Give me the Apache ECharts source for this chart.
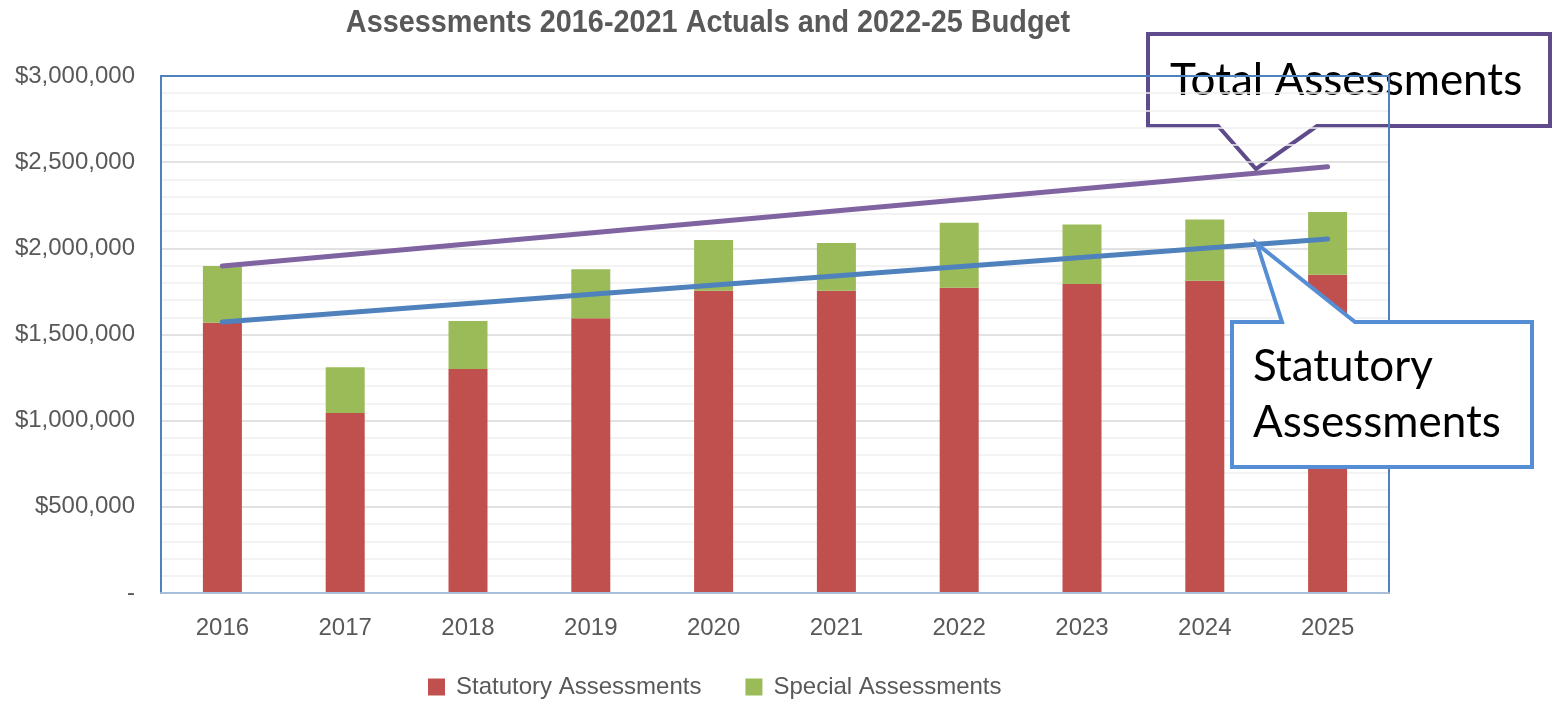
<!DOCTYPE html>
<html>
<head>
<meta charset="utf-8">
<script src="https://cdn.jsdelivr.net/npm/echarts@6/dist/echarts.min.js"></script>
<style>
html,body{margin:0;padding:0;background:#fff;}
#chart{width:1552px;height:701px;}
</style>
</head>
<body>
<div id="chart"></div>
<script>
const categories = ['2016','2017','2018','2019','2020','2021','2022','2023','2024','2025'];
const statutory = [1568000,1045000,1300000,1594000,1754000,1754000,1772000,1793000,1812000,1847000];
const special   = [329000, 265000, 278000, 284000, 294000, 277000, 377000, 346000, 356000, 364000];
const totalTrend     = [1897000, null, null, null, null, null, null, null, null, 2474000];
const statutoryTrend = [1572000, null, null, null, null, null, null, null, null, 2054000];
const yTicks = [0, 500000, 1000000, 1500000, 2000000, 2500000, 3000000];

const chart = echarts.init(document.getElementById('chart'));
const font = 'Liberation Sans';
chart.setOption({
  animation: false,
  backgroundColor: '#fff',
  textStyle: {fontFamily: font},
  grid: {left: 161, right: 163, top: 76, bottom: 108, show: true, borderColor: '#4F81BD', borderWidth: 2, backgroundColor: 'transparent', z: 3},
  legend: {
    data: ['Statutory Assessments', 'Special Assessments'],
    left: 423, top: 670, icon: 'rect', itemWidth: 17, itemHeight: 17, itemGap: 44,
    textStyle: {fontSize: 24, color: '#595959', fontFamily: font, padding: [0,0,0,6]}
  },
  xAxis: {
    type: 'category', data: categories, z: 4,
    axisTick: {show: false},
    axisLine: {lineStyle: {color: '#A9BEDA', width: 2}},
    axisLabel: {fontSize: 24, color: '#595959', margin: 23, fontFamily: font}
  },
  yAxis: {
    type: 'value', min: yTicks[0], max: yTicks[yTicks.length-1], interval: 500000,
    axisLine: {show: false}, axisTick: {show: false},
    axisLabel: {fontSize: 24, color: '#595959', margin: 26, fontFamily: font,
      formatter: v => v === 0 ? '-' : '$' + v.toLocaleString('en-US')},
    splitLine: {lineStyle: {color: '#D9D9D9', width: 1.5}},
    minorTick: {show: false, splitNumber: 5},
    minorSplitLine: {show: true, lineStyle: {color: '#F0F0F0', width: 1.5}}
  },
  series: [
    {name: 'Statutory Assessments', type: 'bar', stack: 'a', data: statutory, barWidth: 39,
     itemStyle: {color: '#C0504D'}},
    {name: 'Special Assessments', type: 'bar', stack: 'a', data: special, barWidth: 39,
     itemStyle: {color: '#9BBB59'}},
    {name: 'Total Trend', type: 'line', data: totalTrend, connectNulls: true, showSymbol: false, symbol: 'none',
     lineStyle: {color: '#8064A2', width: 5, cap: 'round'}, z: 5},
    {name: 'Statutory Trend', type: 'line', data: statutoryTrend, connectNulls: true, showSymbol: false, symbol: 'none',
     lineStyle: {color: '#4F81BD', width: 5, cap: 'round'}, z: 5}
  ],
  graphic: [
    {type: 'text', x: 708, y: 23, scaleX: 0.93, z: 10,
     style: {text: 'Assessments 2016-2021 Actuals and 2022-25 Budget', font: 'bold 31px Liberation Sans', fill: '#595959', align: 'center', verticalAlign: 'middle'}},
    {type: 'polygon', z: -5, shape: {points: [[1148,34],[1550,34],[1550,126],[1317,126],[1256,169],[1218,126],[1148,126]]},
     style: {fill: 'none', stroke: '#5F4B8B', lineWidth: 4, lineJoin: 'miter'}},
    {type: 'text', z: -4, x: 1170, y: 59,
     style: {text: 'Total Assessments', font: '44px Lato', fill: '#000', align: 'left', verticalAlign: 'top'}},
    {type: 'polygon', z: 20, shape: {points: [[1232,322],[1282,322],[1257,244],[1355,322],[1532,322],[1532,467],[1232,467]]},
     style: {fill: '#fff', stroke: '#558ED5', lineWidth: 4, lineJoin: 'miter'}},
    {type: 'text', z: 21, x: 1253, y: 345,
     style: {text: 'Statutory', font: '44px Lato', fill: '#000', align: 'left', verticalAlign: 'top'}},
    {type: 'text', z: 21, x: 1253, y: 401,
     style: {text: 'Assessments', font: '44px Lato', fill: '#000', align: 'left', verticalAlign: 'top'}}
  ]
});
</script>
</body>
</html>
